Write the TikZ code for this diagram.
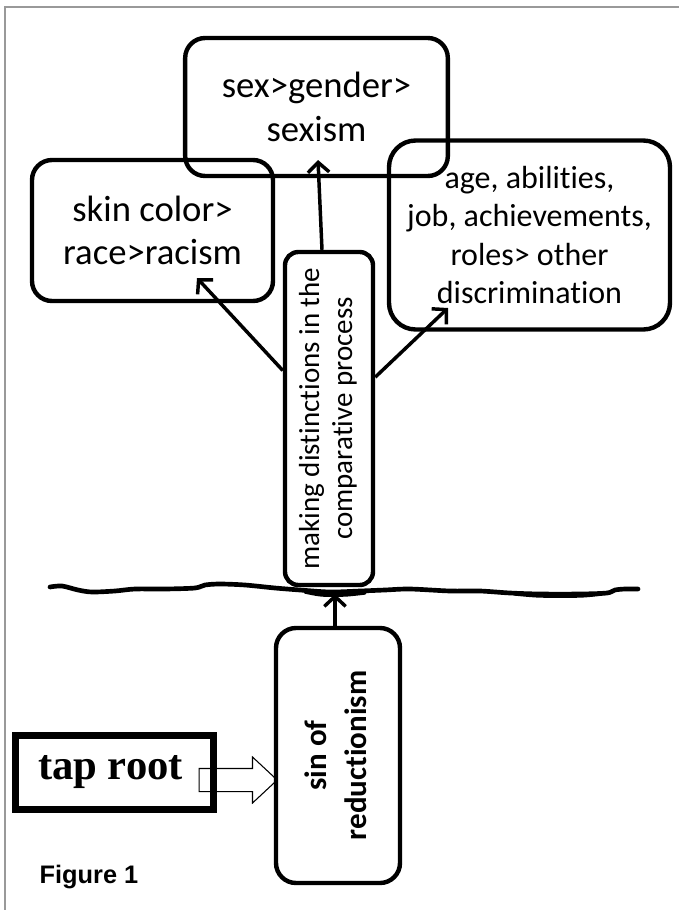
\documentclass[tikz,border=0pt]{standalone}
\usepackage{fontspec}
\setmainfont{Carlito}[RawFeature={-liga;-clig;-calt;-dlig}]
\newfontfamily\tapfont{Liberation Serif}
\newfontfamily\figfont{Liberation Sans}
\usetikzlibrary{arrows.meta,shapes.arrows}
\newcommand{\tI}{t\kern0pt i}
\tikzset{
  roundbox/.style={draw, line width=3.3pt, rounded corners=15pt, align=center, inner sep=0pt},
  branch/.style={line width=2.6pt, -{Straight Barb[length=7.5pt,width=16pt]}},
}
\begin{document}
\begin{tikzpicture}[x=0.75pt,y=-0.75pt]
\useasboundingbox (0,0) rectangle (679,910);
% page frame
\draw [gray!80, line width=0.9pt] (4,7) -- (679,7);
\draw [gray!80, line width=0.9pt] (5,7) -- (5,910);

\node[roundbox, minimum width=197pt, minimum height=103.5pt, font=\fontsize{27.5}{33.5}\selectfont] (sexBox) at (316.5,107) {sex>gender>\\sexism};
\node[roundbox, minimum width=180.75pt, minimum height=105.75pt, font=\fontsize{27.5}{32.5}\selectfont] (skinBox) at (152.5,230.5) {skin color>\\race>racism};
\node[roundbox, rounded corners=20pt, minimum width=210.75pt, minimum height=141.75pt, font=\fontsize{24}{28.7}\selectfont] (ageBox) at (529.5,235) {age, abili\tI es,\\job, achievements,\\roles> other\\discrimina\tI on};

\node[roundbox, rounded corners=10pt, minimum width=66pt, minimum height=249.75pt, font=\fontsize{21.75}{24.75}\selectfont] (mkBox) at (329,418.5)
  {\rotatebox{90}{\begin{tabular}{@{}c@{}}making dis\tI nc\tI ons in the\\compara\tI ve process\end{tabular}}};
\node[roundbox, minimum width=93pt, minimum height=191.25pt, font=\bfseries\fontsize{23.25}{30}\selectfont] (sinBox) at (338,755.5)
  {\rotatebox{90}{\begin{tabular}{@{}c@{}}sin of\\reduc\tI onism\end{tabular}}};

\node[draw, line width=5pt, minimum width=148.5pt, minimum height=55.5pt, inner sep=0pt, font=\tapfont\bfseries\fontsize{32}{36}\selectfont] (tapBox) at (114.5,772.5) {tap root\hspace*{6pt}};
\node[single arrow, draw, line width=0.8pt, inner xsep=0pt, inner ysep=8.25pt, minimum height=58.5pt, single arrow head extend=8.6pt, single arrow tip angle=86] (tapArrow) at (232,780) {};

\node[anchor=base west, font=\figfont\bfseries\fontsize{19}{23}\selectfont] (figLabel) at (35,883) {Figure 1};

% ground line
\draw [line width=3.5pt, line cap=round] plot[smooth] coordinates {(50,587) (62,586) (78,590) (92,592) (115,591) (135,589) (165,589) (195,588) (205,585) (220,584) (245,585) (275,588) (300,590) (330,592) (360,591) (385,590) (410,589) (450,591) (480,591) (510,593) (540,594) (580,594) (607,593) (615,590) (625,589) (638,589)};
\draw [line width=2.5pt, line cap=round] plot[smooth] coordinates {(305,592) (322,595) (345,595) (365,593)};
\draw [line width=2.5pt, line cap=round] plot[smooth] coordinates {(515,594) (540,596) (580,596) (602,594)};

\coordinate (cMkTopPt) at ([xshift=-5.25pt]mkBox.north);
\coordinate (cMkLeftPt) at ([yshift=36pt]mkBox.west);
\coordinate (cMkRightPt) at ([yshift=31pt]mkBox.east);
\coordinate (cSinTopPt) at ([xshift=-2.25pt]sinBox.north);
\coordinate (cSexTipPt) at (318,160);
\coordinate (cSkinTipPt) at (197,278);
\coordinate (cAgeTipPt) at (448,308);
\coordinate (cGroundPt) at (335,594);
\foreach \v/\u in {MkTopPt/SexTipPt, MkLeftPt/SkinTipPt, MkRightPt/AgeTipPt, SinTopPt/GroundPt}
{
    \draw [branch] (c\v) -- (c\u);
};
\end{tikzpicture}
\end{document}
